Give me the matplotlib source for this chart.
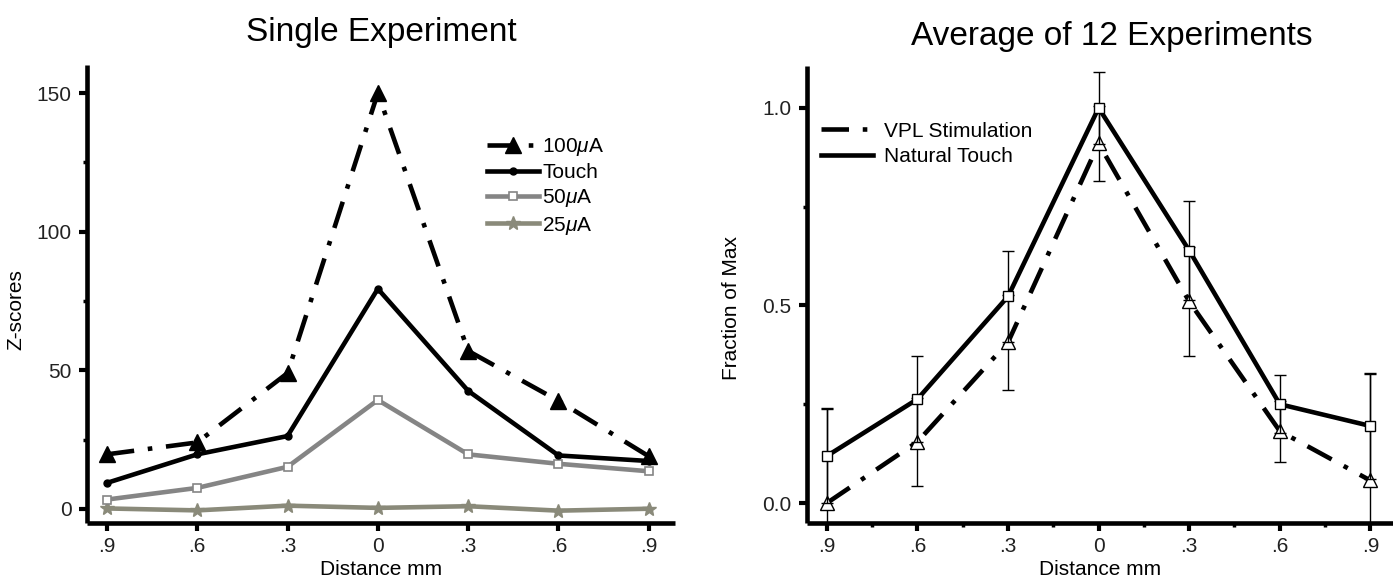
import matplotlib
matplotlib.use("Agg")
import matplotlib.pyplot as plt
from matplotlib.lines import Line2D
from matplotlib.ticker import FixedLocator

plt.rcParams['font.family'] = ['Liberation Sans', 'DejaVu Sans']
plt.rcParams['mathtext.fontset'] = 'custom'
plt.rcParams['mathtext.rm'] = 'Liberation Sans'
plt.rcParams['mathtext.it'] = 'Liberation Sans:italic'

# datos
distancias = ['.9', '.6', '.3', '0', '.3', '.6', '.9']

z_100uA = [19.7, 24, 49, 150, 57, 39, 19]
z_touch = [9.4, 19.7, 26.3, 79.4, 42.6, 19.3, 17.3]
z_50uA = [3.4, 7.6, 15.2, 39.3, 19.7, 16.3, 13.6]
z_25uA = [0.2, -0.5, 1.2, 0.4, 1.0, -0.6, 0.1]

frac_touch = [0.119, 0.263, 0.523, 1.0, 0.639, 0.25, 0.195]
err_touch = [0.12, 0.108, 0.116, 0.092, 0.126, 0.073, 0.134]
frac_vpl = [0.0, 0.155, 0.407, 0.91, 0.51, 0.182, 0.057]
err_vpl = [0.24, 0.111, 0.12, 0.096, 0.137, 0.077, 0.27]

W, H = 1393, 580
fig = plt.figure(figsize=(W / 100, H / 100), dpi=100)

dashdot = (0, (6, 3, 1.0, 3))
lw = 3.3
fs = 15

ax1 = fig.add_axes([87 / W, 1 - 523 / H, (675 - 87) / W, (523 - 65) / H])
ax2 = fig.add_axes([807 / W, 1 - 523 / H, (W - 807) / W, (523 - 66) / H])

x = list(range(len(distancias)))

ax1.plot(x, z_100uA, color='black', lw=lw, linestyle=dashdot, marker='^',
         markersize=11, label=r'100$\mu$A', zorder=5)
ax1.plot(x, z_touch, color='black', lw=lw, marker='o', markersize=5,
         label='Touch', zorder=4)
ax1.plot(x, z_50uA, color='#858585', lw=lw, marker='s', markersize=6,
         markerfacecolor='white', markeredgecolor='#858585', markeredgewidth=1.2,
         label=r'50$\mu$A', zorder=3)
ax1.plot(x, z_25uA, color='#8a8a7a', lw=lw, marker='*', markersize=10,
         label=r'25$\mu$A', zorder=2)

ax1.set_xlim(-0.22, 6.29)
ax1.set_ylim(-5.05, 160.1)
ax1.set_yticks([0, 50, 100, 150])
ax1.yaxis.set_minor_locator(FixedLocator([25, 75, 125]))

ax2.errorbar(x, frac_vpl, yerr=err_vpl, color='black', lw=lw, linestyle=dashdot,
             marker='^', markersize=10, markerfacecolor='white', markeredgecolor='black',
             markeredgewidth=1.0, ecolor='black', elinewidth=1.0, capsize=4,
             capthick=1.0, zorder=3)
ax2.errorbar(x, frac_touch, yerr=err_touch, color='black', lw=lw,
             marker='s', markersize=7, markerfacecolor='white', markeredgecolor='black',
             markeredgewidth=1.0, ecolor='black', elinewidth=1.0, capsize=4,
             capthick=1.0, zorder=4)

ax2.set_xlim(-0.22, 6.25)
ax2.set_ylim(-0.0506, 1.106)
ax2.set_yticks([0.0, 0.5, 1.0])
ax2.set_yticklabels(['0.0', '0.5', '1.0'])
ax2.yaxis.set_minor_locator(FixedLocator([0.25, 0.75]))
ax2.xaxis.set_minor_locator(FixedLocator([0.5, 1.5, 2.5, 3.5, 4.5, 5.5]))

for ax in (ax1, ax2):
    ax.set_xticks(x)
    ax.set_xticklabels(distancias)
    for s in ('top', 'right'):
        ax.spines[s].set_visible(False)
    for s in ('left', 'bottom'):
        ax.spines[s].set_linewidth(3.3)
        ax.spines[s].set_capstyle('butt')
    ax.tick_params(which='major', direction='out', length=6, width=3, labelsize=fs, pad=4)
    ax.tick_params(axis='y', which='major', pad=5)
    ax.tick_params(which='minor', direction='out', length=3, width=2.5)
    ax.set_xlabel('Distance mm', fontsize=fs)
    ax.xaxis.set_label_coords(0.5, -0.08)
    for lbl in ax.get_xticklabels() + ax.get_yticklabels():
        lbl.set_color('#222222')

ax1.set_ylabel('Z-scores', fontsize=fs)
ax1.yaxis.set_label_coords(-0.104, 0.465)
ax2.set_ylabel('Fraction of Max', fontsize=fs)
ax2.yaxis.set_label_coords(-0.113, 0.47)

leg1 = ax1.legend(loc='upper left', bbox_to_anchor=(0.68, 0.845), frameon=False,
                  fontsize=fs, handlelength=2.5, handletextpad=0.15,
                  labelspacing=0.25, borderpad=0, borderaxespad=0)

# leyenda sin marcadores, solo lineas
handles2 = [Line2D([], [], color='black', lw=lw, linestyle=dashdot),
            Line2D([], [], color='black', lw=lw)]
leg2 = ax2.legend(handles2, ['VPL Stimulation', 'Natural Touch'], loc='upper left',
                  bbox_to_anchor=(0.024, 0.878), frameon=False,
                  fontsize=fs, handlelength=2.5, handletextpad=0.5,
                  labelspacing=0.3, borderpad=0, borderaxespad=0)

fig.text(381 / W, 1 - 32 / H, 'Single Experiment', ha='center', va='center', fontsize=24)
fig.text(1112 / W, 1 - 37 / H, 'Average of 12 Experiments', ha='center', va='center', fontsize=24)

fig.savefig('out.png', dpi=100)
